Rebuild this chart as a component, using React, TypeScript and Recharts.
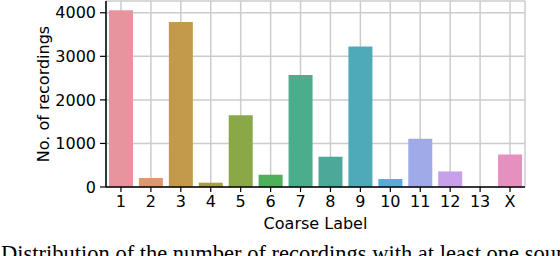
import React from 'react'
import { BarChart, Bar, Cell, XAxis, YAxis, CartesianGrid } from 'recharts'

// Counts per coarse label.
const categories = ['1', '2', '3', '4', '5', '6', '7', '8', '9', '10', '11', '12', '13', 'X']
const counts = [4060, 206, 3790, 99, 1650, 282, 2570, 695, 3225, 183, 1108, 358, 0, 748]
const yTicks = [0, 1000, 2000, 3000, 4000]

// seaborn husl-like palette, desaturated
const barColors = [
  '#e8949f', '#e0976e', '#c39a4b', '#a8a142', '#8aa847', '#4fb05b', '#4bad8b',
  '#4ca899', '#4faab7', '#56acd6', '#a0aae8', '#c8a0ea', '#e29ad8', '#e690bf',
]

const Y_MAX = 4270
const FONT = '"DejaVu Sans", sans-serif'

export default function App() {
  const data = categories.map((label, i) => ({ label, count: counts[i] }))
  const axisLine = { stroke: '#000', strokeWidth: 1.5 }
  const tickLine = { stroke: '#000', strokeWidth: 1.2 }

  return (
    <div
      style={{
        position: 'absolute',
        left: 0,
        top: 0,
        width: 560,
        height: 256,
        overflow: 'hidden',
        background: '#fff',
        fontFamily: FONT,
      }}
    >
      <BarChart
        width={560}
        height={256}
        data={data}
        margin={{ top: 1, right: 35, bottom: 0, left: 0 }}
        barCategoryGap="10%"
      >
        <CartesianGrid stroke="#cccccc" strokeWidth={1.5} />
        <XAxis
          dataKey="label"
          height={69}
          interval={0}
          tickSize={5}
          tickMargin={4}
          tick={{ fill: '#000', fontSize: 16 }}
          axisLine={axisLine}
          tickLine={tickLine}
          label={{ value: 'Coarse Label', position: 'insideBottom', offset: 27, fill: '#000', fontSize: 16 }}
        />
        <XAxis
          xAxisId="top"
          dataKey="label"
          orientation="top"
          height={0}
          tick={false}
          tickLine={false}
          axisLine={axisLine}
        />
        <YAxis
          width={106}
          domain={[0, Y_MAX]}
          ticks={yTicks}
          tickSize={6}
          tickMargin={4}
          tick={{ fill: '#000', fontSize: 16 }}
          axisLine={axisLine}
          tickLine={tickLine}
          label={{
            value: 'No. of recordings',
            angle: -90,
            position: 'insideLeft',
            dx: 38,
            fill: '#000',
            fontSize: 16,
            style: { textAnchor: 'middle' },
          }}
        />
        <YAxis
          yAxisId="right"
          orientation="right"
          width={0}
          domain={[0, Y_MAX]}
          tick={false}
          tickLine={false}
          axisLine={axisLine}
        />
        <Bar dataKey="count" isAnimationActive={false}>
          {data.map((d, i) => (
            <Cell key={d.label} fill={barColors[i]} />
          ))}
        </Bar>
      </BarChart>
      <svg
        width={560}
        height={256}
        style={{ position: 'absolute', left: 0, top: 0, pointerEvents: 'none' }}
      >
        <text x={1} y={261} fontFamily='"Liberation Serif", serif' fontSize={22.5} fill="#000">
          Distribution of the number of recordings with at least one sound event
        </text>
      </svg>
    </div>
  )
}
